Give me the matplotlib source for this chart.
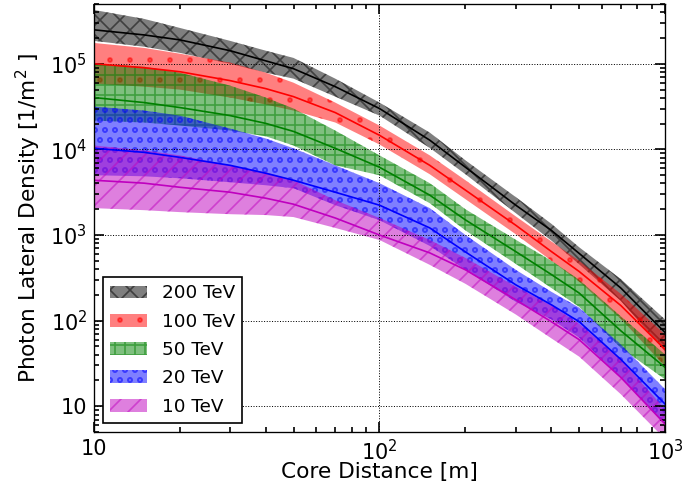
import matplotlib
matplotlib.use('Agg')
import matplotlib.pyplot as plt
from matplotlib.ticker import NullFormatter

# core distance [m]
x = [10, 15, 20, 30, 40, 50, 70, 100, 150, 200, 300, 400, 500, 700, 1000]

# 200 TeV
mid_200 = [2.49e5, 2.17e5, 1.90e5, 1.42e5, 1.08e5, 8.75e4, 5.40e4, 3.00e4, 1.28e4, 6.18e3, 2.23e3, 1.13e3, 610, 240, 72.5]
hi_200 = [4.25e5, 3.34e5, 2.62e5, 1.85e5, 1.42e5, 1.17e5, 6.70e4, 3.52e4, 1.57e4, 7.45e3, 2.77e3, 1.35e3, 720, 305, 103]
lo_200 = [1.85e5, 1.58e5, 1.34e5, 1.00e5, 7.86e4, 6.70e4, 4.13e4, 2.48e4, 1.04e4, 5.12e3, 1.80e3, 860, 455, 170, 43.6]

# 100 TeV
mid_100 = [1.00e5, 8.98e4, 8.07e4, 6.35e4, 5.12e4, 4.13e4, 2.69e4, 1.46e4, 6.51e3, 3.34e3, 1.30e3, 640, 375, 150, 46]
hi_100 = [1.75e5, 1.53e5, 1.31e5, 1.03e5, 7.86e4, 6.01e4, 3.52e4, 1.90e4, 8.51e3, 4.36e3, 1.65e3, 840, 500, 205, 68.7]
lo_100 = [5.85e4, 5.40e4, 4.99e4, 4.03e4, 3.34e4, 2.84e4, 2.06e4, 1.14e4, 5.12e3, 2.62e3, 1.02e3, 500, 285, 105, 29.2]

# 50 TeV
mid_50 = [4.03e4, 3.52e4, 3.08e4, 2.48e4, 2.01e4, 1.62e4, 1.03e4, 6.18e3, 2.92e3, 1.50e3, 640, 345, 210, 76, 28.4]
hi_50 = [1.00e5, 9.23e4, 7.86e4, 5.55e4, 4.03e4, 3.00e4, 1.66e4, 8.51e3, 4.03e3, 2.00e3, 880, 500, 300, 112, 40.2]
lo_50 = [2.17e4, 2.06e4, 1.90e4, 1.66e4, 1.42e4, 1.11e4, 6.51e3, 4.99e3, 2.35e3, 1.13e3, 460, 240, 145, 48, 20.6]

# 20 TeV
mid_20 = [1.03e4, 9.23e3, 8.07e3, 6.51e3, 5.26e3, 4.36e3, 3.16e3, 2.23e3, 1.21e3, 634, 262, 153, 97.3, 35.2, 10.6]
hi_20 = [3.16e4, 2.84e4, 2.48e4, 1.75e4, 1.34e4, 1.03e4, 6.51e3, 4.03e3, 2.06e3, 1.00e3, 392, 217, 142, 52.6, 15.8]
lo_20 = [4.99e3, 4.85e3, 4.60e3, 4.13e3, 3.81e3, 3.52e3, 2.23e3, 1.49e3, 745, 392, 166, 103, 63.4, 21.7, 6.18]

# 10 TeV
mid_10 = [4.36e3, 4.03e3, 3.61e3, 3.16e3, 2.69e3, 2.29e3, 1.58e3, 1.00e3, 618, 392, 175, 97, 60, 21.7, 6.18]
hi_10 = [1.11e4, 9.73e3, 8.51e3, 6.51e3, 5.40e3, 4.36e3, 2.55e3, 1.58e3, 875, 540, 250, 150, 92, 35.2, 9.23]
lo_10 = [2.06e3, 1.95e3, 1.85e3, 1.75e3, 1.71e3, 1.62e3, 1.21e3, 875, 448, 269, 118, 62, 38, 13.8, 4.13]

labels = ['200 TeV', '100 TeV', '50 TeV', '20 TeV', '10 TeV']
colors = ['k', 'r', 'g', 'b', 'm']
hatches = ['xx', '.', '++', 'oo', '//']
mids = [mid_200, mid_100, mid_50, mid_20, mid_10]
his = [hi_200, hi_100, hi_50, hi_20, hi_10]
los = [lo_200, lo_100, lo_50, lo_20, lo_10]

plt.rcParams['mathtext.default'] = 'regular'
plt.rcParams['hatch.linewidth'] = 1.0

fig = plt.figure(figsize=(685 / 120, 486 / 120), dpi=120)
ax = fig.add_axes([0.137, 0.111, 0.834, 0.881])

for lab, c, h, m, hi, lo in zip(labels, colors, hatches, mids, his, los):
    ax.plot(x, m, color=c, lw=1)
    ax.fill_between(x, lo, hi, color=c, alpha=0.5, hatch=h, linewidth=0, label=lab)

ax.set_xscale('log')
ax.set_yscale('log')
ax.set_xlim(10, 1000)
ax.set_ylim(5, 5e5)
ax.set_xticks([10, 100, 1000])
ax.set_xticklabels(['10', '$10^2$', '$10^3$'])
ax.set_yticks([10, 100, 1e3, 1e4, 1e5])
ax.set_yticklabels(['10', '$10^2$', '$10^3$', '$10^4$', '$10^5$'])
ax.xaxis.set_minor_formatter(NullFormatter())
ax.yaxis.set_minor_formatter(NullFormatter())

ax.tick_params(which='both', direction='in', top=True, right=True)
ax.tick_params(which='major', length=6, width=1, labelsize=12.5, pad=4)
ax.tick_params(which='minor', length=3, width=1)
ax.grid(True, which='major', linestyle=':', color='k', lw=0.6)

ax.set_xlabel('Core Distance [m]', fontsize=13)
ax.xaxis.set_label_coords(0.5, -0.07)
ax.set_ylabel('Photon Lateral Density [1/m$^2$ ]', fontsize=13)

leg = ax.legend(loc='lower left', fontsize=11, fancybox=False, framealpha=1,
                edgecolor='k', labelspacing=0.56)
leg.get_frame().set_linewidth(1)

fig.savefig('out.png', dpi=120)
